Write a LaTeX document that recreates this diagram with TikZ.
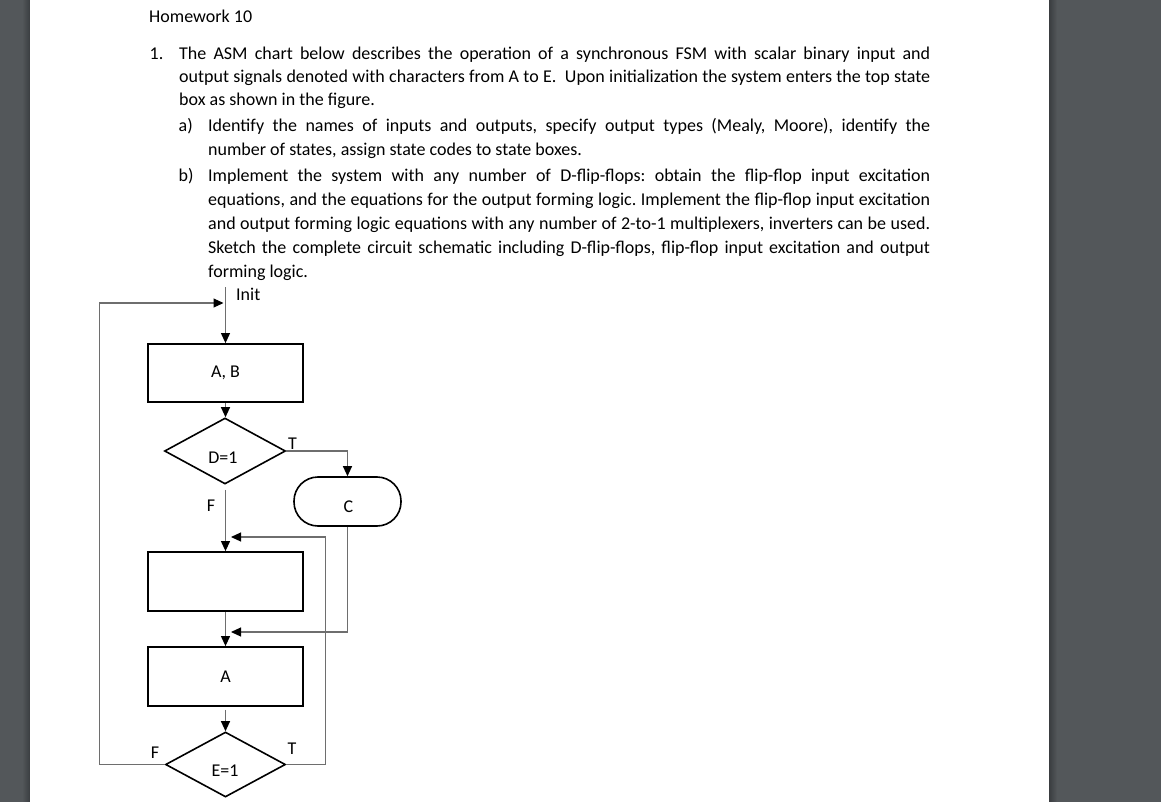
\documentclass[tikz,border=0pt]{standalone}
\usepackage{fontspec}
\setmainfont{Carlito}
\usetikzlibrary{arrows.meta,shapes.geometric}
\definecolor{bggray}{RGB}{83,87,90}
\definecolor{bgdark}{RGB}{58,61,64}
\definecolor{wirecol}{RGB}{110,110,110}
\frenchspacing
\begin{document}
\begin{tikzpicture}[x=1pt,y=-1pt,
  txt/.style={inner sep=0pt,anchor=base west,font=\fontsize{18}{22}\selectfont},
  lbl/.style={inner sep=0pt,font=\fontsize{18}{22}\selectfont},
  stbox/.style={draw=black,line width=1.8pt,minimum width=155pt,minimum height=58pt,inner sep=0pt,font=\fontsize{18}{22}\selectfont},
  cond/.style={draw=black,line width=1.6pt,shape=diamond,inner sep=0pt},
  cbox/.style={draw=black,line width=1.6pt,rounded corners=24pt,minimum width=107pt,minimum height=49pt,inner sep=0pt},
  wire/.style={draw=wirecol,line width=1.1pt},
  arr/.style={wire,-{Triangle[length=10pt,width=9pt,color=black]}},
]
\useasboundingbox (0,0) rectangle (1161,802);
\fill[bggray] (0,0) rectangle (1161,802);
\shade[left color=bggray,right color=bgdark] (22,0) rectangle (30,802);
\shade[left color=bgdark,right color=bggray] (1049,0) rectangle (1057,802);
\fill[white] (30,0) rectangle (1049,802);

% text
\node[txt] (hw) at (149,23) {Homework 10};
\node[txt] (n1) at (149.5,59.5) {1.};
\node[txt] (l1) at (179,59.5) {\makebox[751pt][s]{The ASM chart below describes the operation of a synchronous FSM with scalar binary input and}};
\node[txt] (l2) at (179,82.5) {\makebox[751pt][s]{output signals denoted with characters from A to E.\ \ Upon initialization the system enters the top state}};
\node[txt] (l3) at (179,106) {box as shown in the figure.};
\node[txt] (na) at (178.5,132) {a)};
\node[txt] (a1) at (208,132) {\makebox[722pt][s]{Identify the names of inputs and outputs, specify output types (Mealy, Moore), identify the}};
\node[txt] (a2) at (208,156) {number of states, assign state codes to state boxes.};
\node[txt] (nb) at (178.5,182) {b)};
\node[txt] (b1) at (208,182) {\makebox[722pt][s]{Implement the system with any number of D-flip-flops: obtain the flip-flop input excitation}};
\node[txt] (b2) at (208,206) {\makebox[722pt][s]{equations, and the equations for the output forming logic. Implement the flip-flop input excitation}};
\node[txt] (b3) at (208,230) {\makebox[722pt][s]{and output forming logic equations with any number of 2-to-1 multiplexers, inverters can be used.}};
\node[txt] (b4) at (208,254) {\makebox[722pt][s]{Sketch the complete circuit schematic including D-flip-flops, flip-flop input excitation and output}};
\node[txt] (b5) at (208,277.5) {forming logic.};

% ASM chart
\node[stbox] (ab) at (225.5,373) {A, B};
\node[cond,minimum width=121pt,minimum height=66pt] (d1) at (225,451) {};
\node[lbl] (d1t) at (223,457.5) {D=1};
\node[cbox] (cb) at (347.5,501.5) {};
\node[lbl] (cbt) at (348.5,506.5) {C};
\node[stbox,minimum height=59pt] (eb) at (225.5,581.5) {};
\node[stbox,minimum height=59pt] (a) at (225.5,676.5) {A};
\node[cond,minimum width=120pt,minimum height=65pt] (e1) at (225.5,764.5) {};
\node[lbl] (e1t) at (225,771) {E=1};

\node[lbl] (tD) at (292.5,443.5) {T};
\node[lbl] (fD) at (211,505.5) {F};
\node[lbl] (fE) at (155,752.5) {F};
\node[lbl] (tE) at (292,749) {T};
\node[lbl,anchor=base west] (initl) at (236,300.5) {Init};

\coordinate (inittop) at (225.5,287);
\coordinate (j0) at (223.5,303);
\coordinate (j1) at (231,537);
\coordinate (j2) at (231,632);

\draw[arr] (inittop) -- (ab.north);
\draw[arr] (ab.south) -- (ab.south |- d1.north);
\draw[arr] (d1.east) -| (cb.north);
\draw[arr] ([yshift=-5pt]d1.south -| eb.north) -- (eb.north);
\draw[arr] (e1.east) -- ++(39,0) |- (j1);
\draw[arr] (cb.south) |- (j2);
\draw[arr] (eb.south) -- (a.north);
\draw[arr] ([yshift=-3pt]a.south) -- (e1.north);
\draw[arr] (e1.west) -- ++(-65,0) |- (j0);
\end{tikzpicture}
\end{document}
